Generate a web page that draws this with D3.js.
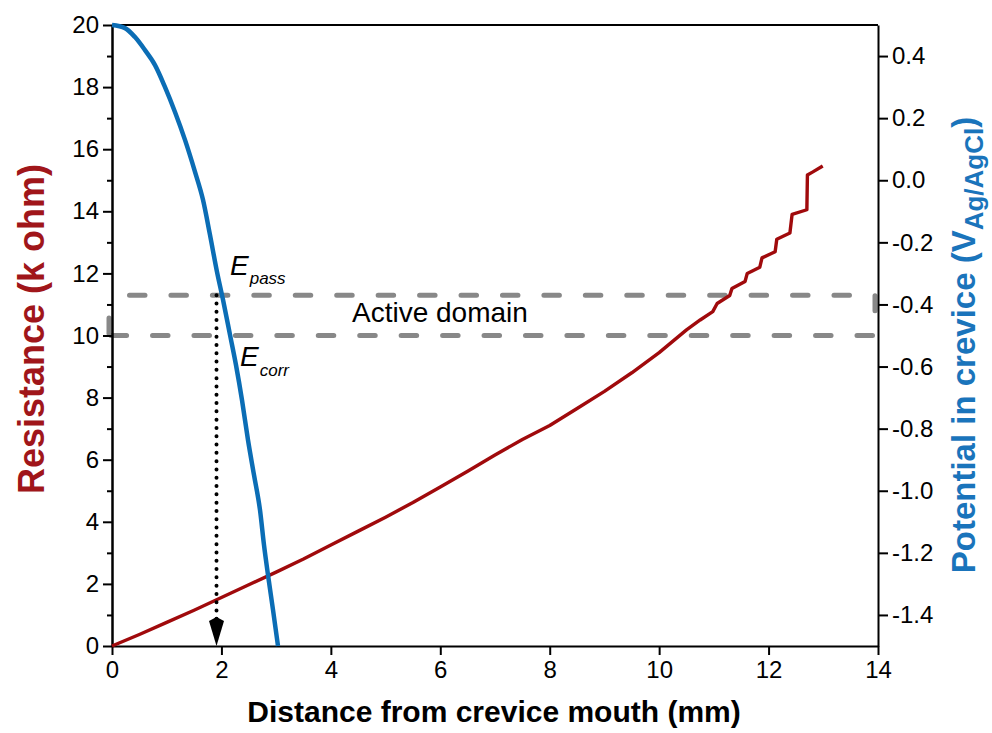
<!DOCTYPE html>
<html>
<head>
<meta charset="utf-8">
<script src="https://cdn.jsdelivr.net/npm/d3@7/dist/d3.min.js"></script>
<style>
  html, body { margin: 0; padding: 0; background: #fff; }
  svg { display: block; font-family: "Liberation Sans", Arial, sans-serif; }
</style>
</head>
<body>
<svg id="chart" width="992" height="733"></svg>
<script>
// ---------------- data ----------------
const distanceTicks = [0, 2, 4, 6, 8, 10, 12, 14];
const resistanceTicks = [0, 2, 4, 6, 8, 10, 12, 14, 16, 18, 20];
const resistanceMinorTicks = [1, 3, 5, 7, 9, 11, 13, 15, 17, 19];
const potentialTicks = [0.4, 0.2, 0.0, -0.2, -0.4, -0.6, -0.8, -1.0, -1.2, -1.4];

// Resistance (k ohm) vs distance (mm)
const resistanceX = [0, 0.5, 1, 1.5, 2, 2.5, 3, 3.5, 4, 4.5, 5, 5.5, 6, 6.5, 7, 7.5, 8, 8.5, 9, 9.5, 10, 10.5, 10.75,
  10.98, 11.06, 11.29, 11.33, 11.57, 11.61, 11.84, 11.88, 12.12, 12.15, 12.39, 12.43, 12.70, 12.71, 12.81, 12.99];
const resistanceY = [0, 0.37, 0.76, 1.15, 1.56, 1.97, 2.38, 2.8, 3.25, 3.7, 4.15, 4.62, 5.12, 5.63, 6.15, 6.65, 7.1, 7.65, 8.2, 8.8, 9.45, 10.18, 10.5,
  10.77, 11.03, 11.29, 11.51, 11.74, 12.0, 12.2, 12.5, 12.7, 13.1, 13.3, 13.9, 14.05, 15.17, 15.27, 15.46];

// Potential in crevice (V Ag/AgCl) vs distance (mm)
const potentialX = [0, 0.238, 0.420, 0.603, 0.786, 0.969, 1.151, 1.334, 1.517, 1.663, 1.791, 1.919, 2.029, 2.157,
  2.266, 2.376, 2.486, 2.595, 2.705, 2.778, 2.851, 2.943, 3.034];
const potentialY = [0.5, 0.490, 0.461, 0.419, 0.371, 0.300, 0.220, 0.130, 0.027, -0.063, -0.176, -0.295, -0.385, -0.498,
  -0.595, -0.708, -0.837, -0.949, -1.062, -1.175, -1.271, -1.384, -1.5];

// Active domain bounds (resistance-axis units) and arrow position
const activeDomain = [10, 11.3];
const arrowDistance = 1.91;

// ---------------- layout ----------------
const W = 992, H = 733;
const m = { left: 112, right: 114, top: 25, bottom: 87 };
const iw = W - m.left - m.right, ih = H - m.top - m.bottom;

const svg = d3.select("#chart");
const x = d3.scaleLinear().domain([0, 14]).range([m.left, m.left + iw]);
const yL = d3.scaleLinear().domain([0, 20]).range([m.top + ih, m.top]);
const yR = d3.scaleLinear().domain([-1.5, 0.5]).range([m.top + ih, m.top]);

const RED = "#A00A0C", BLUE = "#0B6DB5", GRAY = "#888888";
const tickFont = 24;

// ---------------- active domain dashed box ----------------
const yTop = yL(activeDomain[1]), yBot = yL(activeDomain[0]);
const boxL = x(0) - 3, boxR = x(14) - 3;
const dashG = svg.append("g").attr("stroke", GRAY).attr("stroke-width", 5)
  .attr("stroke-linecap", "round").attr("fill", "none");
dashG.append("line").attr("x1", boxL).attr("x2", boxR).attr("y1", yTop).attr("y2", yTop)
  .attr("stroke-dasharray", "15.5 25.94").attr("stroke-dashoffset", 41.44 - 20.5);
dashG.append("line").attr("x1", boxR).attr("x2", boxL).attr("y1", yBot).attr("y2", yBot)
  .attr("stroke-dasharray", "15.5 25.94").attr("stroke-dashoffset", 41.44 - 2.5);
dashG.append("line").attr("x1", boxR).attr("x2", boxR).attr("y1", yTop + 0.5).attr("y2", yTop + 15.5);
dashG.append("line").attr("x1", boxL).attr("x2", boxL).attr("y1", yBot - 17.5).attr("y2", yBot - 2);

// ---------------- axes ----------------
function styleAxis(g) {
  g.attr("font-size", tickFont).attr("font-family", "'Liberation Sans', Arial, sans-serif");
  g.selectAll("path.domain").attr("stroke", "#000").attr("stroke-width", 2);
  g.selectAll(".tick line").attr("stroke", "#000").attr("stroke-width", 2);
  g.selectAll(".tick text").attr("fill", "#000");
}

// top frame
svg.append("line").attr("x1", x(0)).attr("x2", x(14)).attr("y1", m.top).attr("y2", m.top)
  .attr("stroke", "#000").attr("stroke-width", 2);

const gx = svg.append("g").attr("transform", `translate(0,${m.top + ih})`)
  .call(d3.axisBottom(x).tickValues(distanceTicks).tickFormat(d3.format("d")).tickSize(9).tickSizeOuter(0).tickPadding(6));
styleAxis(gx);

const gyMinor = svg.append("g").attr("transform", `translate(${m.left},0)`)
  .call(d3.axisLeft(yL).tickValues(resistanceMinorTicks).tickFormat("").tickSize(5).tickSizeOuter(0));
styleAxis(gyMinor);
const gy = svg.append("g").attr("transform", `translate(${m.left},0)`)
  .call(d3.axisLeft(yL).tickValues(resistanceTicks).tickFormat(d3.format("d")).tickSize(9).tickSizeOuter(0).tickPadding(4));
styleAxis(gy);

const gyr = svg.append("g").attr("transform", `translate(${m.left + iw},0)`)
  .call(d3.axisRight(yR).tickValues(potentialTicks).tickFormat(d => d.toFixed(1)).tickSize(10).tickSizeOuter(0).tickPadding(4));
styleAxis(gyr);

// ---------------- lines ----------------
const redData = resistanceX.map((d, i) => [d, resistanceY[i]]);
const blueData = potentialX.map((d, i) => [d, potentialY[i]]);

svg.append("path").datum(redData)
  .attr("d", d3.line().x(d => x(d[0])).y(d => yL(d[1])).curve(d3.curveLinear))
  .attr("fill", "none").attr("stroke", RED).attr("stroke-width", 3.4).attr("stroke-linejoin", "round");

svg.append("path").datum(blueData)
  .attr("d", d3.line().x(d => x(d[0])).y(d => yR(d[1])).curve(d3.curveMonotoneX))
  .attr("fill", "none").attr("stroke", BLUE).attr("stroke-width", 4.5).attr("stroke-linejoin", "round");

// ---------------- dotted arrow ----------------
const ax = x(arrowDistance);
svg.append("line").attr("x1", ax).attr("x2", ax).attr("y1", yTop).attr("y2", yL(0) - 24)
  .attr("stroke", "#000").attr("stroke-width", 4).attr("stroke-linecap", "round")
  .attr("stroke-dasharray", "0 8.3");
svg.append("path")
  .attr("d", `M${ax},${yL(0)} L${ax - 7.5},${yL(0) - 25} L${ax},${yL(0) - 29} L${ax + 7.5},${yL(0) - 25} Z`)
  .attr("fill", "#000");

// ---------------- annotations ----------------
const ann = svg.append("g").attr("fill", "#000").attr("font-family", "'Liberation Sans', Arial, sans-serif");
const ep = ann.append("text").attr("x", 230).attr("y", 275).attr("font-style", "italic").attr("font-size", 28);
ep.append("tspan").text("E");
ep.append("tspan").attr("font-size", 17).attr("dy", 9).attr("dx", 1).text("pass");
const ec = ann.append("text").attr("x", 240).attr("y", 366).attr("font-style", "italic").attr("font-size", 28);
ec.append("tspan").text("E");
ec.append("tspan").attr("font-size", 17).attr("dy", 10).attr("dx", 1).text("corr");
ann.append("text").attr("x", 352).attr("y", 322).attr("font-size", 28).text("Active domain");

// ---------------- axis titles ----------------
svg.append("text").attr("x", 494).attr("y", 722).attr("text-anchor", "middle")
  .attr("font-size", 30).attr("font-weight", "bold").attr("fill", "#000")
  .text("Distance from crevice mouth (mm)");

svg.append("text").attr("transform", "translate(44,329) rotate(-90)").attr("text-anchor", "middle")
  .attr("font-size", 36).attr("font-weight", "bold").attr("fill", "#A0161A")
  .text("Resistance (k ohm)");

const rt = svg.append("text").attr("transform", "translate(975,345) rotate(-90)").attr("text-anchor", "middle")
  .attr("font-size", 33).attr("font-weight", "bold").attr("fill", "#1A74BB");
rt.append("tspan").text("Potential in crevice (V");
rt.append("tspan").attr("font-size", 26).attr("dy", 8).text("Ag/AgCl");
rt.append("tspan").attr("dy", -8).text(")");
</script>
</body>
</html>
